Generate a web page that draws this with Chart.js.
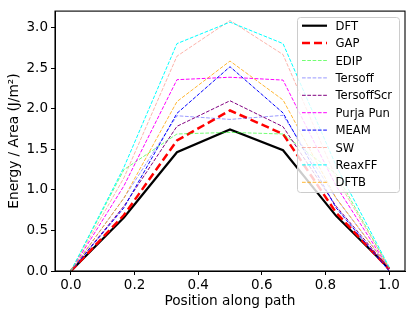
<!DOCTYPE html>
<html>
<head>
<meta charset="utf-8">
<script src="https://cdn.jsdelivr.net/npm/chart.js@4"></script>
<style>
  html, body { margin: 0; padding: 0; background: #fff; }
  #wrap { width: 416px; height: 316px; }
</style>
</head>
<body>
<div id="wrap"><canvas id="myChart" width="416" height="316"></canvas></div>
<script>
// path positions and energies
const positions = [0, 1/6, 1/3, 1/2, 2/3, 5/6, 1];
const dft        = [0, 0.66, 1.465, 1.745, 1.49, 0.68, 0.03];
const gap        = [0, 0.69, 1.61, 1.98, 1.69, 0.72, 0.02];
const edip       = [0, 1.25, 1.69, 1.71, 1.69, 1.20, 0.04];
const tersoff    = [0, 0.90, 1.915, 1.87, 1.92, 0.90, 0.03];
const tersoffScr = [0, 0.80, 1.785, 2.10, 1.78, 0.80, 0.03];
const purjaPun   = [0, 1.05, 2.36, 2.39, 2.355, 1.05, 0.03];
const meam       = [0, 0.78, 1.945, 2.52, 1.95, 0.78, 0.00];
const sw         = [0, 1.15, 2.65, 3.09, 2.67, 1.15, 0.04];
const reaxff     = [0, 1.28, 2.805, 3.07, 2.805, 1.30, 0.05];
const dftb       = [0, 0.90, 2.09, 2.59, 2.11, 0.90, 0.04];

const xTicks = [0, 0.2, 0.4, 0.6, 0.8, 1.0];
const yTicks = [0, 0.5, 1.0, 1.5, 2.0, 2.5, 3.0];

const FONT = 'DejaVu Sans';

function series(label, values, color, width, dash) {
    return {
        label: label,
        data: positions.map((x, i) => ({ x: x, y: values[i] })),
        borderColor: color,
        borderWidth: width,
        borderDash: dash,
        pointRadius: 0,
        fill: false,
        tension: 0
    };
}

const datasets = [
    series('DFT', dft, '#000000', 2.2, []),
    series('GAP', gap, '#ff0000', 2.5, [8, 4]),
    series('EDIP', edip, 'rgba(0,255,0,0.55)', 1, [3.7, 1.6]),
    series('Tersoff', tersoff, 'rgba(0,0,255,0.4)', 1, [3.7, 1.6]),
    series('TersoffScr', tersoffScr, '#800080', 1, [3.7, 1.6]),
    series('Purja Pun', purjaPun, '#ff00ff', 1, [3.7, 1.6]),
    series('MEAM', meam, '#0000ff', 1, [3.7, 1.6]),
    series('SW', sw, 'rgba(250,128,114,0.6)', 1, [3.7, 1.6]),
    series('ReaxFF', reaxff, '#00ffff', 1, [3.7, 1.6]),
    series('DFTB', dftb, 'rgba(255,165,0,0.8)', 1, [3.7, 1.6])
];
// later series on top, like matplotlib
datasets.forEach((d, i) => { d.order = datasets.length - i; });

// frame on all four sides + legend box inside the plot
const framePlugin = {
    id: 'frame',
    afterDraw(chart) {
        const { ctx, chartArea: a } = chart;
        ctx.save();
        ctx.strokeStyle = '#000';
        ctx.lineWidth = 1.1;
        ctx.setLineDash([]);
        ctx.strokeRect(a.left, a.top, a.right - a.left, a.bottom - a.top);

        // legend
        const bx = 297, by = 17, bw = 102, bh = 175;
        ctx.fillStyle = 'rgba(255,255,255,0.8)';
        ctx.strokeStyle = '#cccccc';
        ctx.lineWidth = 1;
        ctx.beginPath();
        ctx.roundRect(bx + 0.5, by + 0.5, bw, bh, 3);
        ctx.fill();
        ctx.stroke();

        ctx.font = '11.6px "' + FONT + '"';
        ctx.textBaseline = 'middle';
        ctx.textAlign = 'left';
        chart.data.datasets.forEach((d, i) => {
            const y = 25.7 + i * 17.4;
            ctx.strokeStyle = d.borderColor;
            ctx.lineWidth = d.borderWidth;
            ctx.setLineDash(d.borderDash);
            ctx.beginPath();
            ctx.moveTo(302, y);
            ctx.lineTo(327, y);
            ctx.stroke();
            ctx.setLineDash([]);
            ctx.fillStyle = '#000';
            ctx.fillText(d.label, 335.5, y + 1);
        });
        ctx.restore();
    }
};

const ctx = document.getElementById('myChart').getContext('2d');
const myChart = new Chart(ctx, {
    type: 'line',
    data: { datasets: datasets },
    options: {
        responsive: false,
        animation: false,
        layout: { padding: { top: 10, right: 11, left: 0, bottom: 0 } },
        plugins: {
            legend: { display: false },
            tooltip: { enabled: false }
        },
        scales: {
            x: {
                type: 'linear',
                min: -0.05,
                max: 1.05,
                afterBuildTicks: s => { s.ticks = xTicks.map(v => ({ value: v })); },
                afterFit: s => { s.height = 45; },
                grid: { drawOnChartArea: false, tickLength: 4, color: '#000', tickWidth: 1 },
                border: { color: '#000', width: 1 },
                ticks: {
                    color: '#000',
                    font: { family: FONT, size: 13.5 },
                    padding: 2,
                    maxRotation: 0,
                    callback: v => v.toFixed(1)
                },
                title: {
                    display: true,
                    text: 'Position along path',
                    color: '#000',
                    font: { family: FONT, size: 13.7 },
                    padding: { top: 0, bottom: 6 }
                }
            },
            y: {
                min: 0,
                max: 3.206,
                afterBuildTicks: s => { s.ticks = yTicks.map(v => ({ value: v })); },
                afterFit: s => { s.width = 55; },
                grid: { drawOnChartArea: false, tickLength: 4, color: '#000', tickWidth: 1 },
                border: { color: '#000', width: 1 },
                ticks: {
                    color: '#000',
                    font: { family: FONT, size: 13.5 },
                    padding: 3,
                    callback: v => v.toFixed(1)
                },
                title: {
                    display: true,
                    text: 'Energy / Area (J/m²)',
                    color: '#000',
                    font: { family: FONT, size: 13.7 },
                    padding: { top: 6, bottom: 0 }
                }
            }
        }
    },
    plugins: [framePlugin]
});
</script>
</body>
</html>
